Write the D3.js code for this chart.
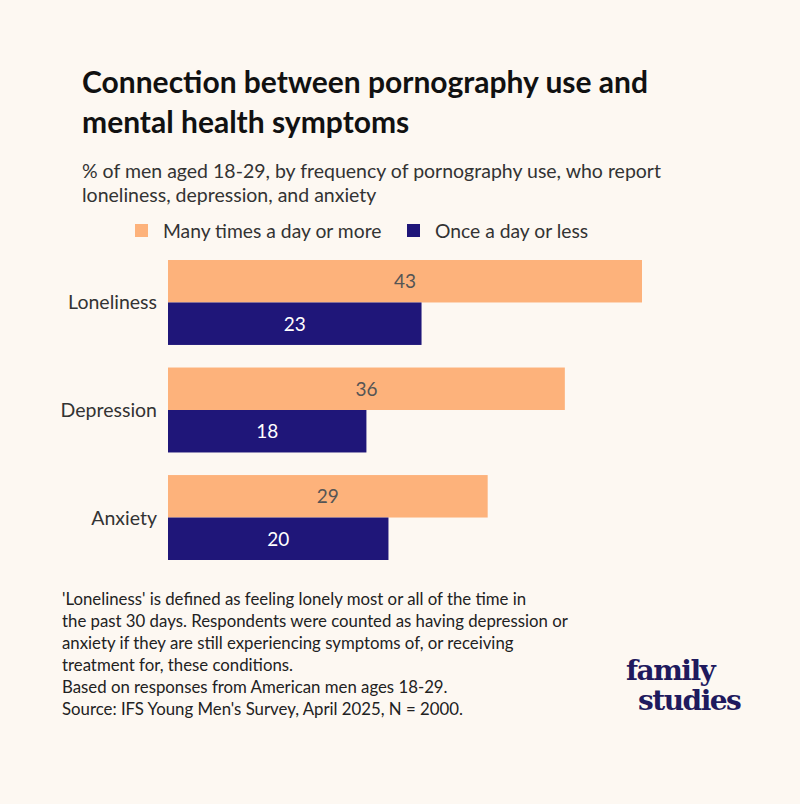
<!DOCTYPE html>
<html><head><meta charset="utf-8">
<script src="https://cdn.jsdelivr.net/npm/d3@7"></script>
<style>body{margin:0;background:#fdf8f2}svg{font-family:Lato,sans-serif}</style>
</head><body><div id="chart"></div>
<script>
var categories = ["Loneliness", "Depression", "Anxiety"];
var seriesNames = ["Many times a day or more", "Once a day or less"];
var manyTimes = [43, 36, 29];
var onceOrLess = [23, 18, 20];
var footnotes = [
  "'Loneliness' is defined as feeling lonely most or all of the time in",
  "the past 30 days. Respondents were counted as having depression or",
  "anxiety if they are still experiencing symptoms of, or receiving",
  "treatment for, these conditions.",
  "Based on responses from American men ages 18-29.",
  "Source: IFS Young Men's Survey, April 2025, N = 2000."
];

var colors = ["#fdb27b", "#1f1679"];
var svg = d3.select("#chart").append("svg").attr("width", 800).attr("height", 804);
svg.append("rect").attr("width", 800).attr("height", 804).attr("fill", "#fdf8f2");

svg.append("text").attr("x", 82).attr("y", 93).attr("font-size", 30).attr("font-weight", 700).attr("fill", "#111").text("Connection between pornography use and");
svg.append("text").attr("x", 82).attr("y", 133).attr("font-size", 30).attr("font-weight", 700).attr("fill", "#111").text("mental health symptoms");
svg.append("text").attr("x", 82).attr("y", 178).attr("font-size", 19.5).attr("fill", "#333").text("% of men aged 18-29, by frequency of pornography use, who report");
svg.append("text").attr("x", 82).attr("y", 202).attr("font-size", 19.5).attr("fill", "#333").text("loneliness, depression, and anxiety");

// legend
var legendX = [135, 407];
seriesNames.forEach(function(n, i) {
  svg.append("rect").attr("x", legendX[i]).attr("y", 224).attr("width", 13).attr("height", 13).attr("fill", colors[i]);
  svg.append("text").attr("x", legendX[i] + 28).attr("y", 238).attr("font-size", 19.3).attr("fill", "#333").text(n);
});

var x = d3.scaleLinear().domain([0, 43]).range([168, 642]);
var y = d3.scaleBand().domain(categories).range([260, 560]).paddingInner(0.21);
var sub = d3.scaleBand().domain([0, 1]).range([0, y.bandwidth()]);

var g = svg.append("g");
var rows = categories.map(function(c, i) { return { cat: c, vals: [manyTimes[i], onceOrLess[i]] }; });
rows.forEach(function(r) {
  r.vals.forEach(function(v, j) {
    g.append("rect").attr("x", x(0)).attr("y", y(r.cat) + sub(j)).attr("width", x(v) - x(0))
      .attr("height", sub.bandwidth()).attr("fill", colors[j]);
    g.append("text").attr("x", (x(0) + x(v)) / 2).attr("y", y(r.cat) + sub(j) + sub.bandwidth() / 2 + 7)
      .attr("text-anchor", "middle").attr("font-size", 19).attr("fill", j ? "#fff" : "#555").text(v);
  });
  g.append("text").attr("x", 157).attr("y", y(r.cat) + y.bandwidth() / 2 + 7).attr("text-anchor", "end")
    .attr("font-size", 19.5).attr("fill", "#333").text(r.cat);
});

footnotes.forEach(function(t, i) {
  svg.append("text").attr("x", 62).attr("y", 605 + i * 22).attr("font-size", 16.8).attr("fill", "#222").text(t);
});

svg.append("text").attr("x", 626).attr("y", 680).attr("font-family", "DejaVu Serif").attr("font-weight", 700)
  .attr("font-size", 28).attr("letter-spacing", -1.5).attr("fill", "#1f1a5e").text("family");
svg.append("text").attr("x", 638).attr("y", 710).attr("font-family", "DejaVu Serif").attr("font-weight", 700)
  .attr("font-size", 28).attr("letter-spacing", -1.5).attr("fill", "#1f1a5e").text("studies");
</script></body></html>
